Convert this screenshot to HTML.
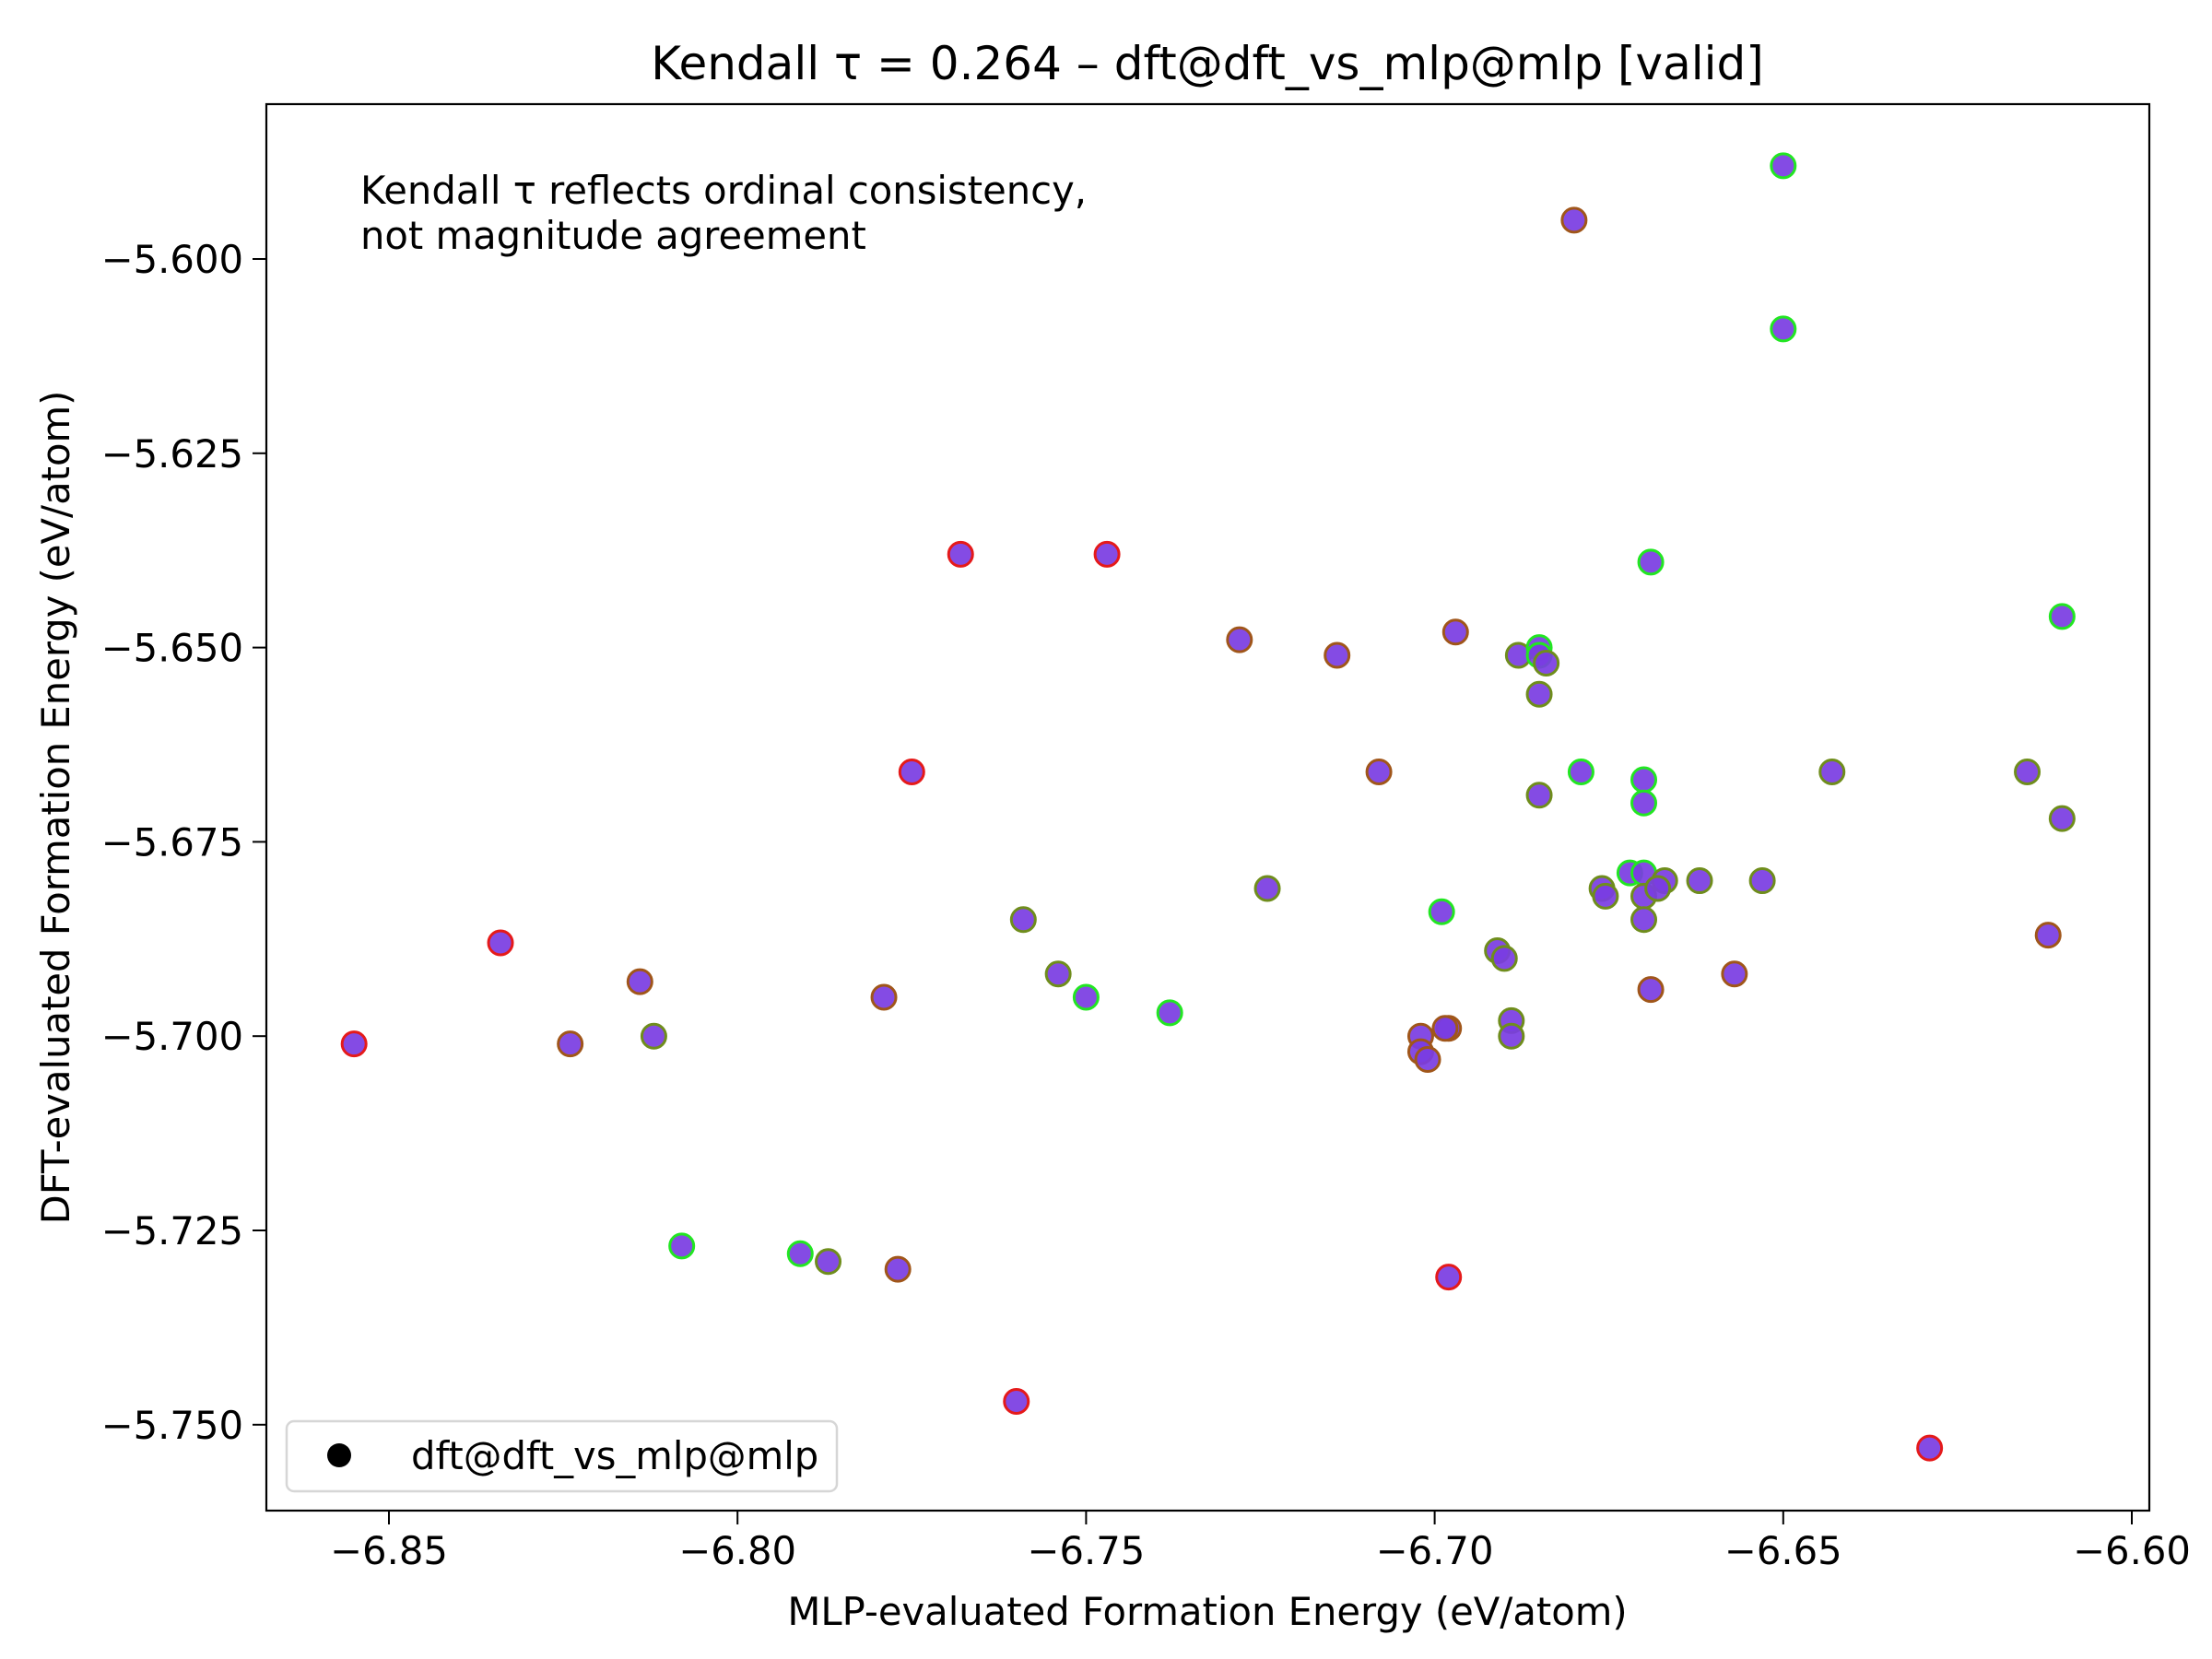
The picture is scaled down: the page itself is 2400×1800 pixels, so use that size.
<!DOCTYPE html>
<html><head><meta charset="utf-8"><style>
html,body{margin:0;padding:0;background:#fff}
svg{display:block}
text{font-family:"DejaVu Sans","Liberation Sans",sans-serif;fill:#000}
</style></head><body>
<svg id="chart" width="2400" height="1800" viewBox="0 0 2400 1800">
<rect x="0" y="0" width="2400" height="1800" fill="#fff"/>
<text x="1310" y="86" font-size="50" text-anchor="middle">Kendall τ = 0.264 – dft@dft_vs_mlp@mlp [valid]</text>
<g id="plot"></g>
<g id="xticks"></g>
<g id="yticks"></g>
<rect x="289" y="113" width="2043" height="1526" fill="none" stroke="#000" stroke-width="2.2"/>
<text x="391" y="221" font-size="41.7">Kendall τ reflects ordinal consistency,</text>
<text x="391" y="270" font-size="41.7">not magnitude agreement</text>
<text x="1310" y="1763" font-size="41.7" text-anchor="middle">MLP-evaluated Formation Energy (eV/atom)</text>
<text transform="translate(75,876) rotate(-90)" font-size="41.7" text-anchor="middle">DFT-evaluated Formation Energy (eV/atom)</text>
<g>
<rect x="311" y="1542" width="597" height="76" rx="8" fill="#fff" fill-opacity="0.8" stroke="#d6d6d6" stroke-width="2.5"/>
<circle cx="368" cy="1579" r="13" fill="#000"/>
<text x="446" y="1594" font-size="41.7">dft@dft_vs_mlp@mlp</text>
</g>
</svg>
<script>
const xVals=[-6.650,-6.680,-6.650,-6.768,-6.747,-6.669,-6.610,-6.728,-6.714,-6.697,-6.688,-6.685,-6.685,-6.684,-6.685,-6.775,-6.708,-6.679,-6.643,-6.615,-6.670,-6.670,-6.685,-6.610,-6.724,-6.759,-6.699,-6.672,-6.670,-6.667,-6.662,-6.653,-6.676,-6.6755,-6.670,-6.668,-6.670,-6.612,-6.834,-6.814,-6.754,-6.750,-6.779,-6.691,-6.690,-6.657,-6.669,-6.812,-6.824,-6.855,-6.738,-6.689,-6.689,-6.698,-6.6985,-6.702,-6.702,-6.701,-6.808,-6.791,-6.787,-6.777,-6.698,-6.760,-6.629];
const yVals=[-5.588,-5.595,-5.609,-5.638,-5.638,-5.639,-5.646,-5.649,-5.651,-5.648,-5.651,-5.650,-5.651,-5.652,-5.656,-5.666,-5.666,-5.666,-5.666,-5.666,-5.667,-5.670,-5.669,-5.672,-5.681,-5.685,-5.684,-5.679,-5.679,-5.680,-5.680,-5.680,-5.681,-5.682,-5.682,-5.681,-5.685,-5.687,-5.688,-5.693,-5.692,-5.695,-5.695,-5.689,-5.690,-5.692,-5.694,-5.700,-5.701,-5.701,-5.697,-5.698,-5.700,-5.699,-5.699,-5.700,-5.702,-5.703,-5.727,-5.728,-5.729,-5.730,-5.731,-5.747,-5.753];
const edgeCats=['g','b','g','r','r','g','g','b','b','b','o','g','g','o','o','r','b','g','o','o','g','g','o','o','o','o','g','g','g','o','o','o','o','o','o','o','o','b','r','b','o','g','b','o','o','b','b','o','b','r','g','o','o','b','b','b','b','b','g','g','o','b','r','r','r'];
const xTickVals=[-6.85,-6.80,-6.75,-6.70,-6.65,-6.60];
const xTickLabels=['−6.85','−6.80','−6.75','−6.70','−6.65','−6.60'];
const yTickVals=[-5.600,-5.625,-5.650,-5.675,-5.700,-5.725,-5.750];
const yTickLabels=['−5.600','−5.625','−5.650','−5.675','−5.700','−5.725','−5.750'];

const NS='http://www.w3.org/2000/svg';
function xs(v){return 422+(v+6.85)/0.05*378.2;}
function ys(v){return 281+(-5.600-v)/0.025*210.8;}
const edgeColor={r:'#e51a1a',b:'#a0561a',o:'#6f8d1c',g:'#22e622'};
const plot=document.getElementById('plot');
for(let i=0;i<xVals.length;i++){
  const c=document.createElementNS(NS,'circle');
  c.setAttribute('cx',xs(xVals[i]));
  c.setAttribute('cy',ys(yVals[i]));
  c.setAttribute('r',13);
  c.setAttribute('fill','#7a3ce2');
  c.setAttribute('fill-opacity','0.92');
  c.setAttribute('stroke',edgeColor[edgeCats[i]]);
  c.setAttribute('stroke-width','3');
  
  
  plot.appendChild(c);
}
const xg=document.getElementById('xticks');
xTickVals.forEach((v,i)=>{
  const x=xs(v);
  const l=document.createElementNS(NS,'line');
  l.setAttribute('x1',x);l.setAttribute('x2',x);l.setAttribute('y1',1639);l.setAttribute('y2',1654);
  l.setAttribute('stroke','#000');l.setAttribute('stroke-width','2');
  
  
  xg.appendChild(l);
  const t=document.createElementNS(NS,'text');
  t.setAttribute('x',x);t.setAttribute('y',1697);t.setAttribute('font-size','41.7');t.setAttribute('text-anchor','middle');
  t.textContent=xTickLabels[i];
  
  
  xg.appendChild(t);
});
const yg=document.getElementById('yticks');
yTickVals.forEach((v,i)=>{
  const y=ys(v);
  const l=document.createElementNS(NS,'line');
  l.setAttribute('x1',274);l.setAttribute('x2',289);l.setAttribute('y1',y);l.setAttribute('y2',y);
  l.setAttribute('stroke','#000');l.setAttribute('stroke-width','2');
  
  
  yg.appendChild(l);
  const t=document.createElementNS(NS,'text');
  t.setAttribute('x',264);t.setAttribute('y',y+15);t.setAttribute('font-size','41.7');t.setAttribute('text-anchor','end');
  t.textContent=yTickLabels[i];
  
  
  yg.appendChild(t);
});
</script>
</body></html>
